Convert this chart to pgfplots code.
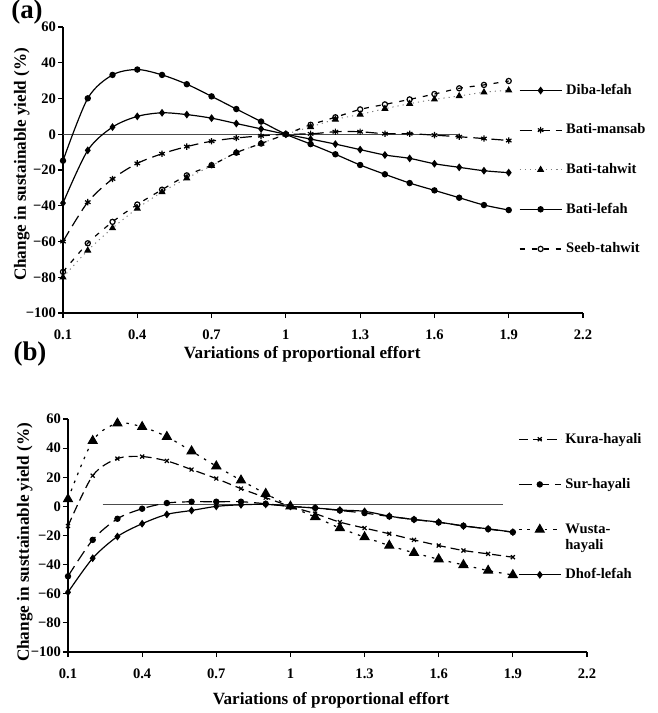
\documentclass[border=0pt]{standalone}
\usepackage{fontspec}
\setmainfont{Liberation Serif}
\usepackage{pgfplots}
\pgfplotsset{compat=1.18}

\pgfplotsset{
  panel/.style={
    scale only axis,
    axis lines*=left,
    axis line style={line width=0.7pt},
    tick align=outside,
    major tick length=2.5bp,
    tick style={black, line width=0.6pt},
    xmin=0.1, xmax=2.2, ymin=-100, ymax=60,
    xtick={0.1,0.4,0.7,1,1.3,1.6,1.9,2.2},
    xticklabels={0.1,0.4,0.7,1,1.3,1.6,1.9,2.2},
    ytick={-100,-80,-60,-40,-20,0,20,40,60},
    yticklabels={−100,−80,−60,−40,−20,0,20,40,60},
    tick label style={font=\fontsize{7.3}{8}\selectfont\bfseries},
    yticklabel style={xshift=2.5bp},
    xticklabel style={yshift=-2.5bp},
    label style={font=\fontsize{8.6}{10}\selectfont\bfseries},
    clip=false,
    every axis plot/.append style={line width=0.6pt, smooth, tension=0.5},
    legend cell align=left,
    legend style={draw=none, fill=none, anchor=north west, inner sep=0pt,
      font=\fontsize{7.3}{8}\selectfont\bfseries,
      nodes={inner sep=1bp, text height=5.2bp, text depth=1.4bp},
      column sep=1bp},
    legend image code/.code={
      \draw[mark repeat=2,mark phase=2,#1]
        plot coordinates {(0bp,0bp)(10.5bp,0bp)(21bp,0bp)};},
  },
}

\begin{document}
\begin{tikzpicture}
\useasboundingbox (0,0) rectangle (329bp,-356.5bp);

% ---------- (a)
\begin{axis}[panel,
  at={(31.5bp,-156.5bp)}, anchor=south west,
  width=260bp, height=143bp,
  xlabel={Variations of proportional effort},
  ylabel={Change in sustainable yield (\%)},
  xlabel style={at={(rel axis cs:0.46,0)}, anchor=center, yshift=-20.5bp},
  ylabel style={at={(rel axis cs:-0.079,0.52)}, anchor=center},
  legend style={at={(axis cs:1.94,29.5)}, row sep=11.2bp},
]
\addplot[gray!60!black, line width=0.6pt, forget plot] coordinates {(0.1,0)(1.7,0)};
\addplot[black, solid, mark=diamond*, mark size=1.5pt] coordinates {
  (0.1,-38.5)(0.2,-9)(0.3,4)(0.4,10)(0.5,12)(0.6,11)(0.7,9)(0.8,6)(0.9,3)(1,0)
  (1.1,-2.7)(1.2,-5.5)(1.3,-8.6)(1.4,-11.6)(1.5,-13.5)(1.6,-16.5)(1.7,-18.5)(1.8,-20.4)(1.9,-21.5)};
\addlegendentry{Diba-lefah}
\addplot[black, dash pattern=on 6bp off 3bp, mark=asterisk, mark size=1.6pt, mark options={solid}] coordinates {
  (0.1,-60)(0.2,-38)(0.3,-25)(0.4,-16.3)(0.5,-10.9)(0.6,-6.9)(0.7,-3.9)(0.8,-2.1)(0.9,-0.9)(1,0)
  (1.1,0.2)(1.2,1.4)(1.3,1.4)(1.4,0.3)(1.5,0.3)(1.6,-0.5)(1.7,-1.4)(1.8,-2.4)(1.9,-3.5)};
\addlegendentry{Bati-mansab}
\addplot[gray, dotted, line width=0.5pt, mark=triangle*, mark size=1.6pt, mark options={solid, black}] coordinates {
  (0.1,-80)(0.2,-65)(0.3,-52.5)(0.4,-41.5)(0.5,-32.3)(0.6,-24.6)(0.7,-17.6)(0.8,-10.3)(0.9,-5.2)(1,0)
  (1.1,4.1)(1.2,8.3)(1.3,11.1)(1.4,14.3)(1.5,17.1)(1.6,19.5)(1.7,21.4)(1.8,23.5)(1.9,24.6)};
\addlegendentry{Bati-tahwit}
\addplot[black, solid, mark=*, mark size=1.3pt] coordinates {
  (0.1,-14.8)(0.2,20.1)(0.3,33.2)(0.4,36.2)(0.5,33.2)(0.6,28)(0.7,21.2)(0.8,14.1)(0.9,7.1)(1,0)
  (1.1,-5.5)(1.2,-11.2)(1.3,-17.2)(1.4,-22.4)(1.5,-27.3)(1.6,-31.4)(1.7,-35.5)(1.8,-39.6)(1.9,-42.4)};
\addlegendentry{Bati-lefah}
\addplot[black, dash pattern=on 2.5bp off 3.5bp, mark=o, mark size=1.3pt, mark options={solid, fill=white}] coordinates {
  (0.1,-77)(0.2,-61)(0.3,-49)(0.4,-39.3)(0.5,-31)(0.6,-23)(0.7,-17.3)(0.8,-10.3)(0.9,-5.2)(1,0)
  (1.1,5.3)(1.2,9.5)(1.3,13.9)(1.4,16.7)(1.5,19.5)(1.6,22.5)(1.7,25.7)(1.8,27.6)(1.9,29.8)};
\addlegendentry{Seeb-tahwit}
\end{axis}

% ---------- (b)
\begin{axis}[panel,
  at={(34bp,-326bp)}, anchor=south west,
  width=259.5bp, height=116.5bp,
  xlabel={Variations of proportional effort},
  ylabel={Change in susttainable yield (\%)},
  xlabel style={at={(rel axis cs:0.507,0)}, anchor=center, yshift=-24bp},
  ylabel style={at={(rel axis cs:-0.083,0.47)}, anchor=center},
  legend style={at={(axis cs:1.92,52.3)}, row sep=14bp},
]
\addplot[gray!60!black, line width=0.6pt, forget plot] coordinates {(0.24,1.4)(1.86,1.4)};
\addplot[black, dash pattern=on 4.5bp off 2.5bp, mark=x, mark size=1.4pt, mark options={solid}] coordinates {
  (0.1,-13.5)(0.2,21.1)(0.3,32.8)(0.4,34.2)(0.5,31.2)(0.6,25.3)(0.7,19.1)(0.8,12.2)(0.9,6)(1,0)
  (1.1,-5)(1.2,-10.8)(1.3,-14.9)(1.4,-18.8)(1.5,-23)(1.6,-26.9)(1.7,-30.3)(1.8,-32.6)(1.9,-34.9)};
\addlegendentry{Kura-hayali}
\addplot[black, dash pattern=on 6bp off 3bp, mark=*, mark size=1.3pt, mark options={solid}] coordinates {
  (0.1,-48)(0.2,-23)(0.3,-8.5)(0.4,-1.6)(0.5,2.3)(0.6,3.2)(0.7,3.2)(0.8,3.2)(0.9,1.8)(1,0)
  (1.1,-1.1)(1.2,-2.8)(1.3,-4.6)(1.4,-6.9)(1.5,-9)(1.6,-11)(1.7,-13.3)(1.8,-15.6)(1.9,-17.7)};
\addlegendentry{Sur-hayali}
\addplot[black, dash pattern=on 1.3bp off 3bp, mark=triangle*, mark size=2.5pt, mark options={solid}] coordinates {
  (0.1,5)(0.2,45)(0.3,57)(0.4,54.6)(0.5,47.8)(0.6,37.9)(0.7,27.6)(0.8,17.9)(0.9,8.7)(1,0)
  (1.1,-7.3)(1.2,-14.9)(1.3,-21.1)(1.4,-26.9)(1.5,-31.9)(1.6,-36.3)(1.7,-40.2)(1.8,-44.1)(1.9,-47.1)};
\addlegendentry{\begin{tabular}[t]{@{}l@{}}Wusta-\\hayali\end{tabular}}
\addplot[black, solid, mark=diamond*, mark size=1.5pt] coordinates {
  (0.1,-59)(0.2,-35.6)(0.3,-20.7)(0.4,-11.9)(0.5,-5.5)(0.6,-2.8)(0.7,0)(0.8,1.1)(0.9,1.4)(1,0)
  (1.1,-1.1)(1.2,-2.5)(1.3,-3.4)(1.4,-6.7)(1.5,-9)(1.6,-10.8)(1.7,-13.5)(1.8,-15.4)(1.9,-17.7)};
\addlegendentry{Dhof-lefah}
\end{axis}

\node[font=\fontsize{13.5}{15}\selectfont\bfseries] at (13.5bp,-6.2bp) {(a)};
\node[font=\fontsize{13.5}{15}\selectfont\bfseries] at (15bp,-177bp) {(b)};
\end{tikzpicture}
\end{document}
